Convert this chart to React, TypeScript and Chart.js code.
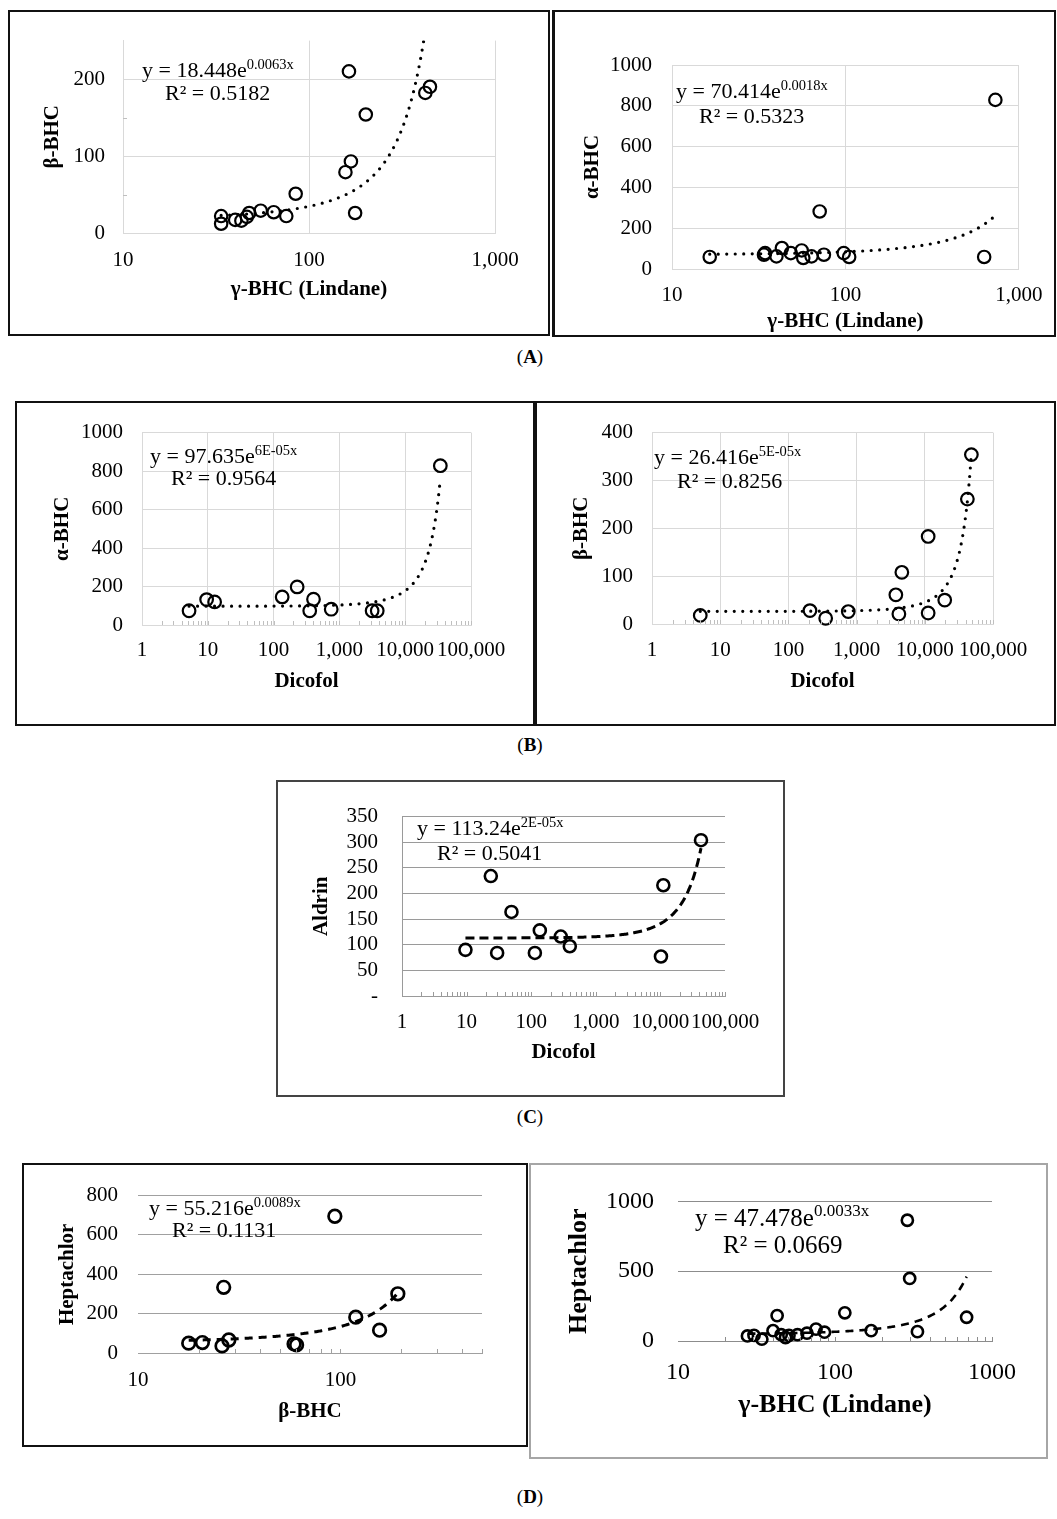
import React, { useEffect, useRef } from "react";
import { Chart, registerables } from "chart.js";

Chart.register(...registerables);

const FONT = '"Liberation Serif", "Times New Roman", Times, serif';

// ---------- DATA ----------
// (A) left: β-BHC vs γ-BHC (Lindane)
const a1X = [33.7, 33.7, 40.1, 43.3, 46.3, 47.7, 55, 64.6, 75.5, 84.8, 164, 157, 168, 202, 177, 422, 447];
const a1Y = [22, 12, 17, 16, 21, 26, 29, 27, 22, 51, 210, 79, 93, 154, 26, 182, 190];
const a1Trend = [18.448, 0.0063];
// (A) right: α-BHC vs γ-BHC (Lindane)
const a2X = [16.5, 33.9, 34.4, 40, 43, 48.4, 55.9, 57.1, 63.7, 71, 75.1, 97.7, 105, 630, 731];
const a2Y = [59, 70, 78, 62, 103, 78, 91, 54, 62, 282, 70, 78, 59, 59, 829];
const a2Trend = [70.414, 0.0018];
// (B) left: α-BHC vs Dicofol
const b1X = [5.19, 9.6, 12.7, 135, 228, 354, 404, 751, 3142, 3758, 34200];
const b1Y = [74, 132, 120, 146, 198, 74, 134, 82, 74, 74, 828];
const b1Trend = [97.635, 0.00006];
// (B) right: β-BHC vs Dicofol
const b2X = [5.1, 207, 352, 755, 3763, 4168, 4607, 11200, 11200, 19600, 42100, 48200];
const b2Y = [18, 28, 12, 26, 61, 21, 108, 183, 23, 50, 261, 354];
const b2Trend = [26.416, 0.000054];
// (C) Aldrin vs Dicofol
const cX = [9.6, 23.7, 29.7, 49.5, 114, 136, 287, 396, 10200, 11100, 42500];
const cY = [90, 234, 84, 164, 84, 128, 116, 97, 77, 216, 304];
const cTrend = [113.24, 0.000022];
// (D) left: Heptachlor vs β-BHC
const d1X = [17.8, 20.8, 26, 26.5, 28.1, 59, 60.7, 93.8, 119, 156, 192];
const d1Y = [50, 53, 36, 334, 66, 46, 41, 695, 182, 116, 301];
const d1Trend = [55.216, 0.0089];
// (D) right: Heptachlor vs γ-BHC (Lindane)
const d2X = [27.7, 30.5, 34.2, 40.3, 42.8, 45.4, 48.4, 50.9, 57.7, 66.3, 75.7, 85.7, 115.5, 170, 289, 299, 335, 689];
const d2Y = [36, 40, 13, 74, 182, 45, 25, 40, 45, 56, 85, 63, 202, 74, 865, 448, 67, 170];
const d2Trend = [47.478, 0.0033];

// ---------- TICKS ----------
const xTicksLindane = [10, 100, 1000];
const xLabelsLindane = ["10", "100", "1,000"];
const xLabelsLindaneD = ["10", "100", "1000"];
const xTicksDicofol = [1, 10, 100, 1000, 10000, 100000];
const xLabelsDicofol = ["1", "10", "100", "1,000", "10,000", "100,000"];
const xTicksBeta = [10, 100];
const xLabelsBeta = ["10", "100"];

const yTicksA1 = [0, 100, 200];
const yLabelsA1 = ["0", "100", "200"];
const yTicks1000 = [0, 200, 400, 600, 800, 1000];
const yLabels1000 = ["0", "200", "400", "600", "800", "1000"];
const yTicksB2 = [0, 100, 200, 300, 400];
const yLabelsB2 = ["0", "100", "200", "300", "400"];
const yTicksC = [0, 50, 100, 150, 200, 250, 300, 350];
const yLabelsC = ["-", "50", "100", "150", "200", "250", "300", "350"];
const yTicksD1 = [0, 200, 400, 600, 800];
const yLabelsD1 = ["0", "200", "400", "600", "800"];
const yTicksD2 = [0, 500, 1000];
const yLabelsD2 = ["0", "500", "1000"];

type Eq = { l1: string; sup: string; l2: string; x1: number; b1: number; x2: number; b2: number; size: number; supSize: number; supRise: number };

interface PanelCfg {
  box: [number, number, number, number];
  border: string;
  borderLeft?: string;
  plot: [number, number, number, number];
  xs: number[]; ys: number[]; trend: number[];
  xMin: number; xMax: number; xTicks: number[]; xLabels: string[];
  yMin: number; yMax: number; yTicks: number[]; yLabels: string[];
  yGrid: number[]; xGrid: boolean; yBorder: boolean;
  xMinor: boolean; yMinor?: number[];
  gridColor: string; axisColor: string;
  xTitle: string; yTitle: string;
  yTickRight: number; xTickY: number; xTitleY: number; yTitleX: number;
  tickSize: number; titleSize: number;
  pointR: number; pointBW: number;
  dash: number[]; cap: "round" | "butt"; trendW: number;
  eq: Eq;
}

const LIGHT = "#d9d9d9";

const panels: PanelCfg[] = [
  {
    box: [8, 10, 550, 336], border: "2px solid #111",
    plot: [123, 40, 495, 233],
    xs: a1X, ys: a1Y, trend: a1Trend,
    xMin: 10, xMax: 1000, xTicks: xTicksLindane, xLabels: xLabelsLindane,
    yMin: 0, yMax: 250, yTicks: yTicksA1, yLabels: yLabelsA1,
    yGrid: [100, 200], xGrid: true, yBorder: true, xMinor: false, yMinor: [50, 150],
    gridColor: LIGHT, axisColor: LIGHT,
    xTitle: "γ-BHC (Lindane)", yTitle: "β-BHC",
    yTickRight: 105, xTickY: 260, xTitleY: 290, yTitleX: 53,
    tickSize: 21, titleSize: 21, pointR: 6.2, pointBW: 2.2,
    dash: [0, 8.5], cap: "round", trendW: 3.2,
    eq: { l1: "y = 18.448e", sup: "0.0063x", l2: "R\u00B2 = 0.5182", x1: 142, b1: 77, x2: 165, b2: 100, size: 22, supSize: 14.5, supRise: 8 },
  },
  {
    box: [552, 10, 1056, 337], border: "2px solid #111", borderLeft: "3px solid #111",
    plot: [672, 65, 1024, 269],
    xs: a2X, ys: a2Y, trend: a2Trend,
    xMin: 10, xMax: 1000, xTicks: xTicksLindane, xLabels: xLabelsLindane,
    yMin: 0, yMax: 1000, yTicks: yTicks1000, yLabels: yLabels1000,
    yGrid: [200, 400, 600, 800, 1000], xGrid: true, yBorder: true, xMinor: false,
    gridColor: LIGHT, axisColor: LIGHT,
    xTitle: "γ-BHC (Lindane)", yTitle: "α-BHC",
    yTickRight: 652, xTickY: 295, xTitleY: 322, yTitleX: 593,
    tickSize: 21, titleSize: 21, pointR: 6.2, pointBW: 2.2,
    dash: [0, 8.5], cap: "round", trendW: 3.2,
    eq: { l1: "y = 70.414e", sup: "0.0018x", l2: "R\u00B2 = 0.5323", x1: 676, b1: 98, x2: 699, b2: 123, size: 22, supSize: 14.5, supRise: 8 },
  },
  {
    box: [15, 401, 535, 726], border: "2px solid #111",
    plot: [142, 431, 471, 625],
    xs: b1X, ys: b1Y, trend: b1Trend,
    xMin: 1, xMax: 100000, xTicks: xTicksDicofol, xLabels: xLabelsDicofol,
    yMin: 0, yMax: 1000, yTicks: yTicks1000, yLabels: yLabels1000,
    yGrid: [200, 400, 600, 800, 1000], xGrid: true, yBorder: true, xMinor: true,
    gridColor: LIGHT, axisColor: LIGHT,
    xTitle: "Dicofol", yTitle: "α-BHC",
    yTickRight: 123, xTickY: 650, xTitleY: 682, yTitleX: 63,
    tickSize: 21, titleSize: 21, pointR: 6.3, pointBW: 2.2,
    dash: [0, 8.5], cap: "round", trendW: 3.2,
    eq: { l1: "y = 97.635e", sup: "6E-05x", l2: "R\u00B2 = 0.9564", x1: 150, b1: 463, x2: 171, b2: 485, size: 22, supSize: 14.5, supRise: 8 },
  },
  {
    box: [535, 401, 1056, 726], border: "2px solid #111",
    plot: [652, 431, 993, 624],
    xs: b2X, ys: b2Y, trend: b2Trend,
    xMin: 1, xMax: 100000, xTicks: xTicksDicofol, xLabels: xLabelsDicofol,
    yMin: 0, yMax: 400, yTicks: yTicksB2, yLabels: yLabelsB2,
    yGrid: [100, 200, 300, 400], xGrid: true, yBorder: true, xMinor: true,
    gridColor: LIGHT, axisColor: LIGHT,
    xTitle: "Dicofol", yTitle: "β-BHC",
    yTickRight: 633, xTickY: 650, xTitleY: 682, yTitleX: 582,
    tickSize: 21, titleSize: 21, pointR: 6.3, pointBW: 2.2,
    dash: [0, 8.5], cap: "round", trendW: 3.2,
    eq: { l1: "y = 26.416e", sup: "5E-05x", l2: "R\u00B2 = 0.8256", x1: 654, b1: 464, x2: 677, b2: 488, size: 22, supSize: 14.5, supRise: 8 },
  },
  {
    box: [276, 780, 785, 1097], border: "2px solid #444",
    plot: [402, 809, 725, 996],
    xs: cX, ys: cY, trend: cTrend,
    xMin: 1, xMax: 100000, xTicks: xTicksDicofol, xLabels: xLabelsDicofol,
    yMin: 0, yMax: 350, yTicks: yTicksC, yLabels: yLabelsC,
    yGrid: [50, 100, 150, 200, 250, 300, 350], xGrid: false, yBorder: true, xMinor: true,
    gridColor: "#9a9a9a", axisColor: "#9a9a9a",
    xTitle: "Dicofol", yTitle: "Aldrin",
    yTickRight: 378, xTickY: 1022, xTitleY: 1053, yTitleX: 322,
    tickSize: 21, titleSize: 21, pointR: 6, pointBW: 2.6,
    dash: [9, 5], cap: "butt", trendW: 3,
    eq: { l1: "y = 113.24e", sup: "2E-05x", l2: "R\u00B2 = 0.5041", x1: 417, b1: 835, x2: 437, b2: 860, size: 22, supSize: 14.5, supRise: 8 },
  },
  {
    box: [22, 1163, 528, 1447], border: "2px solid #111",
    plot: [138, 1192, 482, 1353],
    xs: d1X, ys: d1Y, trend: d1Trend,
    xMin: 10, xMax: 500, xTicks: xTicksBeta, xLabels: xLabelsBeta,
    yMin: 0, yMax: 800, yTicks: yTicksD1, yLabels: yLabelsD1,
    yGrid: [200, 400, 600, 800], xGrid: false, yBorder: false, xMinor: true,
    gridColor: "#a0a0a0", axisColor: "#a0a0a0",
    xTitle: "β-BHC", yTitle: "Heptachlor",
    yTickRight: 118, xTickY: 1380, xTitleY: 1412, yTitleX: 68,
    tickSize: 21, titleSize: 21, pointR: 6.3, pointBW: 2.7,
    dash: [8, 6], cap: "butt", trendW: 3,
    eq: { l1: "y = 55.216e", sup: "0.0089x", l2: "R\u00B2 = 0.1131", x1: 149, b1: 1215, x2: 172, b2: 1237, size: 22, supSize: 14.5, supRise: 8 },
  },
  {
    box: [529, 1163, 1048, 1459], border: "2px solid #a6a6a6",
    plot: [678, 1192, 992, 1341],
    xs: d2X, ys: d2Y, trend: d2Trend,
    xMin: 10, xMax: 1000, xTicks: xTicksLindane, xLabels: xLabelsLindaneD,
    yMin: 0, yMax: 1000, yTicks: yTicksD2, yLabels: yLabelsD2,
    yGrid: [500, 1000], xGrid: false, yBorder: false, xMinor: true,
    gridColor: "#8c8c8c", axisColor: "#8c8c8c",
    xTitle: "γ-BHC (Lindane)", yTitle: "Heptachlor",
    yTickRight: 654, xTickY: 1373, xTitleY: 1405, yTitleX: 579,
    tickSize: 24, titleSize: 26, pointR: 5.6, pointBW: 2.6,
    dash: [8, 6], cap: "butt", trendW: 2.6,
    eq: { l1: "y = 47.478e", sup: "0.0033x", l2: "R\u00B2 = 0.0669", x1: 695, b1: 1226, x2: 723, b2: 1253, size: 25, supSize: 17, supRise: 10 },
  },
];

const captions = [
  { letter: "A", y: 357 },
  { letter: "B", y: 745 },
  { letter: "C", y: 1117 },
  { letter: "D", y: 1497 },
];

// minor tick helper (axis structure, not data)
function logMinor(min: number, max: number): number[] {
  const out: number[] = [];
  for (let k = Math.floor(Math.log10(min)); k <= Math.ceil(Math.log10(max)); k++) {
    for (let m = 1; m <= 9; m++) {
      const v = m * Math.pow(10, k);
      if (v > min * 1.0001 && v <= max * 1.0001) out.push(v);
    }
  }
  return out;
}

// fitted exponential trendline (Excel-style) over the data's x range
function trendCurve(xs: number[], coef: number[]) {
  const lo = Math.min(...xs);
  const hi = Math.max(...xs);
  const n = 200;
  const pts: { x: number; y: number }[] = [];
  for (let i = 0; i <= n; i++) {
    const x = lo * Math.pow(hi / lo, i / n);
    pts.push({ x, y: coef[0] * Math.exp(coef[1] * x) });
  }
  return pts;
}

const minorTicksPlugin = {
  id: "minorTicks",
  afterDraw(chart: any, _args: any, opts: any) {
    const { ctx, chartArea } = chart;
    ctx.save();
    ctx.strokeStyle = opts.color || "#999";
    ctx.lineWidth = 1;
    const len = opts.len || 4;
    if (opts.x) {
      for (const v of opts.x as number[]) {
        const px = Math.round(chart.scales.x.getPixelForValue(v)) + 0.5;
        ctx.beginPath();
        ctx.moveTo(px, chartArea.bottom);
        ctx.lineTo(px, chartArea.bottom - len);
        ctx.stroke();
      }
    }
    if (opts.y) {
      for (const v of opts.y as number[]) {
        const py = Math.round(chart.scales.y.getPixelForValue(v)) + 0.5;
        ctx.beginPath();
        ctx.moveTo(chartArea.left, py);
        ctx.lineTo(chartArea.left + len, py);
        ctx.stroke();
      }
    }
    ctx.restore();
  },
};

function Panel({ p }: { p: PanelCfg }) {
  const ref = useRef<HTMLCanvasElement>(null);
  const [bl, bt, br, bb] = p.box;
  const w = br - bl;
  const h = bb - bt;
  useEffect(() => {
    const [L, T, R, B] = p.plot;
    const tLH = p.titleSize * 1.2;
    const padLeft = p.yTitleX - bl - tLH / 2;
    const yW = L - bl - padLeft;
    const padTop = T - bt;
    const padRight = br - R;
    const padBottom = bb - (p.xTitleY + tLH / 2);
    const xH = bb - padBottom - B;
    const xTickPad = p.xTickY - B - p.tickSize * 0.6;
    const yTickPad = L - p.yTickRight;
    const transparent = "rgba(0,0,0,0)";

    const chart = new Chart(ref.current as HTMLCanvasElement, {
      type: "scatter",
      data: {
        datasets: [
          {
            type: "line",
            data: trendCurve(p.xs, p.trend),
            borderColor: "#000",
            borderWidth: p.trendW,
            borderDash: p.dash,
            borderCapStyle: p.cap,
            pointRadius: 0,
            fill: false,
            tension: 0,
            order: 2,
          } as any,
          {
            data: p.xs.map((x, i) => ({ x, y: p.ys[i] })),
            pointRadius: p.pointR,
            pointBorderWidth: p.pointBW,
            pointBorderColor: "#000",
            pointBackgroundColor: transparent,
            showLine: false,
            clip: false,
            order: 1,
          } as any,
        ],
      },
      options: {
        animation: false,
        responsive: false,
        maintainAspectRatio: false,
        devicePixelRatio: 1,
        events: [],
        layout: { padding: { left: padLeft, top: padTop, right: padRight, bottom: padBottom } },
        plugins: {
          legend: { display: false },
          tooltip: { enabled: false },
          minorTicks: {
            x: p.xMinor ? logMinor(p.xMin, p.xMax) : null,
            y: p.yMinor || null,
            color: p.axisColor === LIGHT ? "#bfbfbf" : p.axisColor,
            len: 4,
          },
        } as any,
        scales: {
          x: {
            type: "logarithmic",
            min: p.xMin,
            max: p.xMax,
            afterBuildTicks: (s: any) => {
              s.ticks = p.xTicks.map((v) => ({ value: v, major: true }));
            },
            afterFit: (s: any) => {
              s.height = xH;
            },
            ticks: {
              autoSkip: false,
              maxRotation: 0,
              minRotation: 0,
              padding: xTickPad,
              color: "#000",
              font: { family: FONT, size: p.tickSize, lineHeight: 1.2 },
              callback: (_v: any, i: number) => p.xLabels[i] ?? "",
            },
            grid: {
              display: p.xGrid,
              drawTicks: false,
              color: p.gridColor,
              lineWidth: 1,
            },
            border: { display: true, color: p.axisColor, width: 1 },
            title: {
              display: true,
              text: p.xTitle,
              color: "#000",
              padding: 0,
              font: { family: FONT, size: p.titleSize, weight: "bold", lineHeight: 1.2 },
            },
          } as any,
          y: {
            type: "linear",
            min: p.yMin,
            max: p.yMax,
            afterBuildTicks: (s: any) => {
              s.ticks = p.yTicks.map((v) => ({ value: v }));
            },
            afterFit: (s: any) => {
              s.width = yW;
            },
            ticks: {
              autoSkip: false,
              padding: yTickPad,
              color: "#000",
              font: { family: FONT, size: p.tickSize, lineHeight: 1.2 },
              callback: (_v: any, i: number) => p.yLabels[i] ?? "",
            },
            grid: {
              drawTicks: false,
              lineWidth: 1,
              color: (c: any) => (c.tick && p.yGrid.includes(c.tick.value) ? p.gridColor : transparent),
            },
            border: { display: p.yBorder, color: p.axisColor, width: 1 },
            title: {
              display: true,
              text: p.yTitle,
              color: "#000",
              padding: 0,
              font: { family: FONT, size: p.titleSize, weight: "bold", lineHeight: 1.2 },
            },
          } as any,
        },
      },
      plugins: [minorTicksPlugin as any],
    });
    return () => chart.destroy();
  }, []);

  const e = p.eq;
  const lineStyle = (size: number): React.CSSProperties => ({
    position: "absolute",
    fontFamily: FONT,
    fontSize: size,
    lineHeight: 1,
    whiteSpace: "nowrap",
    color: "#000",
  });
  return (
    <>
      <div
        style={{
          position: "absolute",
          left: bl,
          top: bt,
          width: w,
          height: h,
          boxSizing: "border-box",
          border: p.border,
          borderLeft: p.borderLeft || p.border,
          background: "#fff",
        }}
      />
      <canvas
        ref={ref}
        width={w}
        height={h}
        style={{ position: "absolute", left: bl, top: bt, width: w, height: h }}
      />
      <div style={{ ...lineStyle(e.size), left: e.x1, top: e.b1 - 0.8375 * e.size }}>
        {e.l1}
        <span style={{ fontSize: e.supSize, position: "relative", top: -e.supRise }}>{e.sup}</span>
      </div>
      <div style={{ ...lineStyle(e.size), left: e.x2, top: e.b2 - 0.8375 * e.size }}>{e.l2}</div>
    </>
  );
}

export default function App() {
  return (
    <div
      style={{
        position: "absolute",
        left: 0,
        top: 0,
        width: 1057,
        height: 1519,
        background: "#fff",
        overflow: "hidden",
      }}
    >
      {panels.map((p, i) => (
        <Panel key={i} p={p} />
      ))}
      {captions.map((c) => (
        <div
          key={c.letter}
          style={{
            position: "absolute",
            left: 480,
            width: 100,
            top: c.y - 10,
            textAlign: "center",
            fontFamily: FONT,
            fontSize: 19,
            lineHeight: "20px",
            color: "#000",
          }}
        >
          (<b>{c.letter}</b>)
        </div>
      ))}
    </div>
  );
}
